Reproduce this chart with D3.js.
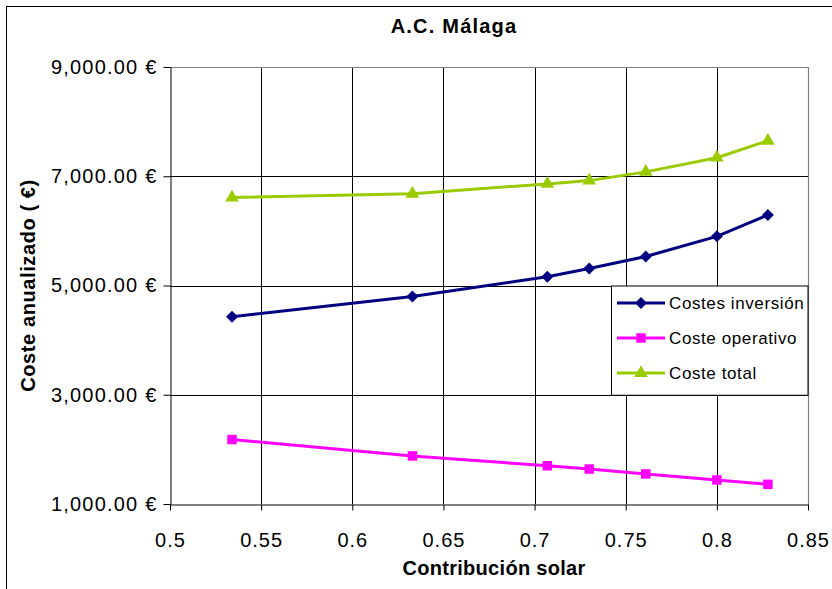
<!DOCTYPE html>
<html>
<head>
<meta charset="utf-8">
<script src="https://cdn.jsdelivr.net/npm/d3@7"></script>
<style>
  body { margin: 0; background: #fff; }
  svg text { font-family: "Liberation Sans", Arial, sans-serif; }
</style>
</head>
<body>
<div id="chart"><svg></svg></div>
<script>
// data
const contribucion = [0.534, 0.633, 0.707, 0.730, 0.761, 0.800, 0.828];
const costesInversion = [4430, 4800, 5160, 5310, 5530, 5900, 6290];
const costeOperativo = [2180, 1880, 1700, 1640, 1550, 1440, 1360];
const costeTotal = [6610, 6680, 6860, 6920, 7080, 7340, 7650];
const seriesNames = ["Costes inversión", "Coste operativo", "Coste total"];
const xTicks = [0.5, 0.55, 0.6, 0.65, 0.7, 0.75, 0.8, 0.85];
const yTicks = [1000, 3000, 5000, 7000, 9000];

const width = 832, height = 589;
const plot = { left: 170, right: 808, top: 67, bottom: 504 };

const svg = d3.select("#chart svg").attr("width", width).attr("height", height);

// outer chart frame
svg.append("rect")
  .attr("x", 6.5).attr("y", 6.5)
  .attr("width", 840).attr("height", 600)
  .attr("fill", "#fff").attr("stroke", "#000").attr("stroke-width", 1);

var x = d3.scaleLinear().domain([0.5, 0.85]).range([plot.left, plot.right]);
var y = d3.scaleLinear().domain([1000, 9000]).range([plot.bottom, plot.top]);

// gridlines
const grid = svg.append("g").attr("class", "grid");
grid.selectAll(".vgrid")
  .data(xTicks.slice(1, -1))
  .enter().append("line")
  .attr("x1", d => Math.round(x(d)) + 0.5).attr("x2", d => Math.round(x(d)) + 0.5)
  .attr("y1", plot.top).attr("y2", plot.bottom)
  .attr("stroke", "#000").attr("stroke-width", 1);
grid.selectAll(".hgrid")
  .data(yTicks.slice(1, -1))
  .enter().append("line")
  .attr("x1", plot.left).attr("x2", plot.right)
  .attr("y1", d => Math.round(y(d)) + 0.5).attr("y2", d => Math.round(y(d)) + 0.5)
  .attr("stroke", "#000").attr("stroke-width", 1);

// plot area border (grey top / right)
svg.append("path")
  .attr("d", `M${plot.left},${plot.top + 0.5}H${plot.right + 0.5}V${plot.bottom}`)
  .attr("fill", "none").attr("stroke", "#808080").attr("stroke-width", 1.2);

// axes
const fmt = d3.format(",.2f");
svg.append("g")
  .attr("class", "y axis")
  .attr("transform", "translate(" + (plot.left + 0.5) + ",0)")
  .call(d3.axisLeft(y).tickValues(yTicks).tickSize(7).tickSizeOuter(0).tickPadding(6)
    .tickFormat(d => fmt(d) + " €"))
  .call(g => g.selectAll("text").attr("font-size", 20).attr("letter-spacing", "1.2px")
    .attr("font-family", "Liberation Sans, Arial, sans-serif").attr("fill", "#000"))
  .call(g => g.selectAll("line,path").attr("stroke", "#000"));

svg.append("g")
  .attr("class", "x axis")
  .attr("transform", "translate(0," + (plot.bottom + 0.5) + ")")
  .call(d3.axisBottom(x).tickValues(xTicks).tickSize(6).tickSizeOuter(0).tickPadding(22)
    .tickFormat(d => String(d)))
  .call(g => g.selectAll("text").attr("font-size", 20).attr("letter-spacing", "1px")
    .attr("font-family", "Liberation Sans, Arial, sans-serif").attr("fill", "#000"))
  .call(g => g.selectAll("line,path").attr("stroke", "#000"));

// titles
svg.append("text")
  .attr("x", 454).attr("y", 33)
  .attr("text-anchor", "middle")
  .attr("font-size", 20).attr("font-weight", "bold").attr("letter-spacing", "1.2px")
  .text("A.C. Málaga");

svg.append("text")
  .attr("x", 494).attr("y", 575)
  .attr("text-anchor", "middle")
  .attr("font-size", 20).attr("font-weight", "bold").attr("letter-spacing", "0.3px")
  .text("Contribución solar");

svg.append("text")
  .attr("transform", "translate(35," + (plot.top + plot.bottom) / 2 + ") rotate(-90)")
  .attr("text-anchor", "middle")
  .attr("font-size", 20).attr("font-weight", "bold").attr("letter-spacing", "0.6px")
  .text("Coste anualizado ( €)");

// series (diamond = square rotated 45°)
const series = [
  { name: seriesNames[0], values: costesInversion, color: "#000080", symbol: d3.symbolSquare, size: 72, rotate: 45 },
  { name: seriesNames[1], values: costeOperativo, color: "#FF00FF", symbol: d3.symbolSquare, size: 90, rotate: 0 },
  { name: seriesNames[2], values: costeTotal, color: "#99CC00", symbol: d3.symbolTriangle, size: 80, rotate: 0 },
];

var line = d3.line()
  .x(function (d) { return x(d.x); })
  .y(function (d) { return y(d.y); });

series.forEach(function (s) {
  const data = contribucion.map((c, i) => ({ x: c, y: s.values[i] }));
  const g = svg.append("g").attr("class", "series");
  g.append("path")
    .datum(data)
    .attr("d", line)
    .attr("fill", "none")
    .attr("stroke", s.color)
    .attr("stroke-width", 3);
  g.selectAll(".pt")
    .data(data)
    .enter().append("path")
    .attr("class", "pt")
    .attr("d", d3.symbol().type(s.symbol).size(s.size))
    .attr("transform", d => "translate(" + x(d.x) + "," + y(d.y) + ") rotate(" + s.rotate + ")")
    .attr("fill", s.color);
});

// legend
const legend = svg.append("g").attr("class", "legend");
legend.append("rect")
  .attr("x", 611.5).attr("y", y(5000) + 0.5)
  .attr("width", plot.right - 611.5).attr("height", y(3000) - y(5000))
  .attr("fill", "#fff").attr("stroke", "#000").attr("stroke-width", 1);

series.forEach(function (s, i) {
  const cy = 303 + i * 35;
  legend.append("line")
    .attr("x1", 617).attr("x2", 665)
    .attr("y1", cy).attr("y2", cy)
    .attr("stroke", s.color).attr("stroke-width", 3);
  legend.append("path")
    .attr("d", d3.symbol().type(s.symbol).size(s.size))
    .attr("transform", "translate(641," + cy + ") rotate(" + s.rotate + ")")
    .attr("fill", s.color);
  legend.append("text")
    .attr("x", 669).attr("y", cy + 6)
    .attr("font-size", 17).attr("letter-spacing", "0.6px")
    .attr("fill", "#000")
    .text(s.name);
});
</script>
</body>
</html>
